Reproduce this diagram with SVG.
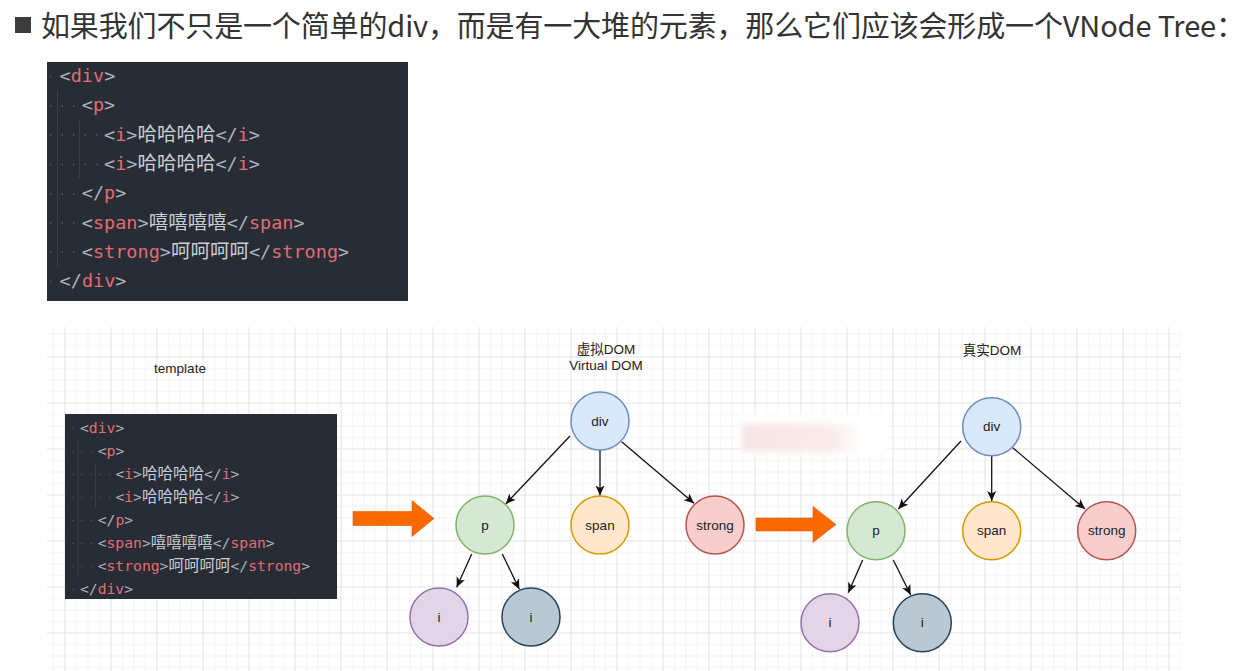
<svg xmlns="http://www.w3.org/2000/svg" width="1260" height="671" viewBox="0 0 1260 671">
<style>
.hdr{font-family:"Noto Sans CJK SC","Noto Sans",sans-serif;font-size:29px;fill:#333}
.code{font-family:"DejaVu Sans Mono","Liberation Mono",monospace;fill:#abb2bf}
.k1{font-size:18.5px}
.k2{font-size:14.7px}
.t{fill:#e06c75}
.z{font-family:"Noto Sans CJK SC",sans-serif;fill:#c8ccd4}
.z1{font-size:19.5px}
.z2{font-size:15.5px}
.dot{fill:#4b5263}
.guide{stroke:#3b4048;stroke-width:1}
.lbl{font-family:"Liberation Sans","Noto Sans CJK SC",Arial,sans-serif;font-size:13.5px;fill:#222;text-anchor:middle}
.nd{stroke-width:1.5}
.edge{stroke:#111;stroke-width:1.3;fill:none;marker-end:url(#ah)}
.big{fill:#fa6800;stroke:#e35c00;stroke-width:0.6}
</style>
<defs>
<pattern id="grid" patternUnits="userSpaceOnUse" x="64.5" y="356.5" width="46" height="46">
<rect x="11.5" y="0" width="1" height="46" fill="#f2f2f2"/>
<rect x="23" y="0" width="1" height="46" fill="#f2f2f2"/>
<rect x="34.5" y="0" width="1" height="46" fill="#f2f2f2"/>
<rect x="0" y="11.5" width="46" height="1" fill="#f2f2f2"/>
<rect x="0" y="23" width="46" height="1" fill="#f2f2f2"/>
<rect x="0" y="34.5" width="46" height="1" fill="#f2f2f2"/>
<rect x="0" y="0" width="1" height="46" fill="#e3e3e3"/>
<rect x="0" y="0" width="46" height="1" fill="#e3e3e3"/>
</pattern>
<marker id="ah" markerUnits="userSpaceOnUse" markerWidth="11" markerHeight="10" refX="10" refY="5" orient="auto">
<path d="M0,0.5 L10,5 L0,9.5 L2.5,5 z" fill="#111"/>
</marker>
<linearGradient id="smg" x1="0" y1="0" x2="1" y2="0">
<stop offset="0" stop-color="#f7e4e4"/>
<stop offset="0.75" stop-color="#fbeaea"/>
<stop offset="1" stop-color="#ffffff"/>
</linearGradient>
<filter id="bl" x="-20%" y="-50%" width="140%" height="200%"><feGaussianBlur stdDeviation="3"/></filter>
</defs>

<rect width="1260" height="671" fill="#ffffff"/>

<!-- header -->
<g id="header">
<rect x="15" y="17" width="16" height="16" fill="#3c3c3c"/>
<text class="hdr" x="41" y="37" textLength="1204" lengthAdjust="spacing">如果我们不只是一个简单的div，而是有一大堆的元素，那么它们应该会形成一个VNode Tree：</text>
</g>

<!-- code block 1 -->
<g id="code1">
<rect x="47" y="62" width="361" height="239" fill="#282c34"/>
<line class="guide" x1="57.5" y1="90" x2="57.5" y2="266"/>
<line class="guide" x1="79.5" y1="120" x2="79.5" y2="178"/>
<g class="dot">
<circle cx="50.5" cy="76.5" r="1"/>
<circle cx="50.5" cy="105.8" r="1"/><circle cx="62.1" cy="105.8" r="1"/><circle cx="73.7" cy="105.8" r="1"/>
<circle cx="50.5" cy="135.1" r="1"/><circle cx="62.1" cy="135.1" r="1"/><circle cx="73.7" cy="135.1" r="1"/><circle cx="85.3" cy="135.1" r="1"/><circle cx="96.9" cy="135.1" r="1"/>
<circle cx="50.5" cy="164.4" r="1"/><circle cx="62.1" cy="164.4" r="1"/><circle cx="73.7" cy="164.4" r="1"/><circle cx="85.3" cy="164.4" r="1"/><circle cx="96.9" cy="164.4" r="1"/>
<circle cx="50.5" cy="193.7" r="1"/><circle cx="62.1" cy="193.7" r="1"/><circle cx="73.7" cy="193.7" r="1"/>
<circle cx="50.5" cy="223" r="1"/><circle cx="62.1" cy="223" r="1"/><circle cx="73.7" cy="223" r="1"/>
<circle cx="50.5" cy="252.3" r="1"/><circle cx="62.1" cy="252.3" r="1"/><circle cx="73.7" cy="252.3" r="1"/>
<circle cx="50.5" cy="281.6" r="1"/>
</g>
<text class="code k1" x="59.6" y="82">&lt;<tspan class="t">div</tspan>&gt;</text>
<text class="code k1" x="81.8" y="111.3">&lt;<tspan class="t">p</tspan>&gt;</text>
<text class="code k1" x="104" y="140.6">&lt;<tspan class="t">i</tspan>&gt;<tspan class="z z1">哈哈哈哈</tspan>&lt;/<tspan class="t">i</tspan>&gt;</text>
<text class="code k1" x="104" y="169.9">&lt;<tspan class="t">i</tspan>&gt;<tspan class="z z1">哈哈哈哈</tspan>&lt;/<tspan class="t">i</tspan>&gt;</text>
<text class="code k1" x="81.8" y="199.2">&lt;/<tspan class="t">p</tspan>&gt;</text>
<text class="code k1" x="81.8" y="228.5">&lt;<tspan class="t">span</tspan>&gt;<tspan class="z z1">嘻嘻嘻嘻</tspan>&lt;/<tspan class="t">span</tspan>&gt;</text>
<text class="code k1" x="81.8" y="257.8">&lt;<tspan class="t">strong</tspan>&gt;<tspan class="z z1">呵呵呵呵</tspan>&lt;/<tspan class="t">strong</tspan>&gt;</text>
<text class="code k1" x="59.6" y="287.1">&lt;/<tspan class="t">div</tspan>&gt;</text>
</g>

<!-- grid canvas -->
<rect x="47" y="327" width="1134" height="344" fill="url(#grid)"/>

<!-- smudge -->
<g id="smudge" filter="url(#bl)">
<rect x="740" y="414" width="148" height="42" fill="#ffffff"/>
<rect x="742" y="424" width="120" height="28" fill="url(#smg)"/>
</g>

<!-- labels -->
<text class="lbl" x="180" y="373">template</text>
<text class="lbl" x="606" y="353.5">虚拟DOM</text>
<text class="lbl" x="606" y="370">Virtual DOM</text>
<text class="lbl" x="992" y="355">真实DOM</text>

<!-- code block 2 -->
<g id="template">
<rect x="65" y="414" width="272" height="185" fill="#282c34"/>
<line class="guide" x1="78" y1="440" x2="78" y2="577"/>
<line class="guide" x1="95.5" y1="463" x2="95.5" y2="507"/>
<g class="dot">
<circle cx="72.8" cy="428.5" r="0.8"/>
<circle cx="72.8" cy="451.5" r="0.8"/><circle cx="82" cy="451.5" r="0.8"/><circle cx="91.2" cy="451.5" r="0.8"/>
<circle cx="72.8" cy="474.5" r="0.8"/><circle cx="82" cy="474.5" r="0.8"/><circle cx="91.2" cy="474.5" r="0.8"/><circle cx="100.4" cy="474.5" r="0.8"/><circle cx="109.6" cy="474.5" r="0.8"/>
<circle cx="72.8" cy="497.5" r="0.8"/><circle cx="82" cy="497.5" r="0.8"/><circle cx="91.2" cy="497.5" r="0.8"/><circle cx="100.4" cy="497.5" r="0.8"/><circle cx="109.6" cy="497.5" r="0.8"/>
<circle cx="72.8" cy="520.5" r="0.8"/><circle cx="82" cy="520.5" r="0.8"/><circle cx="91.2" cy="520.5" r="0.8"/>
<circle cx="72.8" cy="543.5" r="0.8"/><circle cx="82" cy="543.5" r="0.8"/><circle cx="91.2" cy="543.5" r="0.8"/>
<circle cx="72.8" cy="566.5" r="0.8"/><circle cx="82" cy="566.5" r="0.8"/><circle cx="91.2" cy="566.5" r="0.8"/>
<circle cx="72.8" cy="589.5" r="0.8"/>
</g>
<text class="code k2" x="80" y="432.5">&lt;<tspan class="t">div</tspan>&gt;</text>
<text class="code k2" x="97.7" y="455.5">&lt;<tspan class="t">p</tspan>&gt;</text>
<text class="code k2" x="115.4" y="478.5">&lt;<tspan class="t">i</tspan>&gt;<tspan class="z z2">哈哈哈哈</tspan>&lt;/<tspan class="t">i</tspan>&gt;</text>
<text class="code k2" x="115.4" y="501.5">&lt;<tspan class="t">i</tspan>&gt;<tspan class="z z2">哈哈哈哈</tspan>&lt;/<tspan class="t">i</tspan>&gt;</text>
<text class="code k2" x="97.7" y="524.5">&lt;/<tspan class="t">p</tspan>&gt;</text>
<text class="code k2" x="97.7" y="547.5">&lt;<tspan class="t">span</tspan>&gt;<tspan class="z z2">嘻嘻嘻嘻</tspan>&lt;/<tspan class="t">span</tspan>&gt;</text>
<text class="code k2" x="97.7" y="570.5">&lt;<tspan class="t">strong</tspan>&gt;<tspan class="z z2">呵呵呵呵</tspan>&lt;/<tspan class="t">strong</tspan>&gt;</text>
<text class="code k2" x="80" y="593.5">&lt;/<tspan class="t">div</tspan>&gt;</text>
</g>

<!-- big orange arrows -->
<polygon id="arrow1" class="big" points="353,511.5 412,511.5 412,500.5 434,518.5 412,536.5 412,525.5 353,525.5"/>
<polygon id="arrow2" class="big" points="756,518 813,518 813,506.5 836,524.5 813,542.5 813,531 756,531"/>

<!-- connectors -->
<g id="connectors">
<line class="edge" x1="570" y1="436" x2="505.7" y2="504"/>
<line class="edge" x1="600" y1="449.7" x2="600" y2="495.5"/>
<line class="edge" x1="621.7" y1="441.7" x2="694" y2="503.3"/>
<line class="edge" x1="471.7" y1="554" x2="456.7" y2="587.3"/>
<line class="edge" x1="502.3" y1="554" x2="519.3" y2="589.3"/>
<line class="edge" x1="961" y1="441" x2="898.3" y2="509"/>
<line class="edge" x1="991.7" y1="455.7" x2="991.7" y2="501"/>
<line class="edge" x1="1012.7" y1="447.7" x2="1085" y2="509"/>
<line class="edge" x1="862.7" y1="560" x2="848.3" y2="592.7"/>
<line class="edge" x1="893.3" y1="560" x2="910.7" y2="595"/>
</g>

<!-- virtual DOM nodes -->
<g id="v-div"><circle class="nd" cx="600" cy="421" r="29" fill="#dae8fc" stroke="#6c8ebf"/><text class="lbl" x="600" y="425.5">div</text></g>
<g id="v-p"><circle class="nd" cx="485" cy="525" r="29" fill="#d5e8d4" stroke="#82b366"/><text class="lbl" x="485" y="529.5">p</text></g>
<g id="v-span"><circle class="nd" cx="600" cy="525" r="29" fill="#ffe6cc" stroke="#d79b00"/><text class="lbl" x="600" y="529.5">span</text></g>
<g id="v-strong"><circle class="nd" cx="715" cy="525" r="29" fill="#f8cecc" stroke="#b85450"/><text class="lbl" x="715" y="529.5">strong</text></g>
<g id="v-i1"><circle class="nd" cx="439" cy="617" r="29" fill="#e1d5e7" stroke="#9673a6"/><text class="lbl" x="439" y="621.5">i</text></g>
<g id="v-i2"><circle class="nd" cx="531" cy="617" r="29" fill="#bac8d3" stroke="#23445d"/><text class="lbl" x="531" y="621.5">i</text></g>

<!-- real DOM nodes -->
<g id="r-div"><circle class="nd" cx="991.7" cy="426.7" r="29" fill="#dae8fc" stroke="#6c8ebf"/><text class="lbl" x="991.7" y="431.2">div</text></g>
<g id="r-p"><circle class="nd" cx="876" cy="530.7" r="29" fill="#d5e8d4" stroke="#82b366"/><text class="lbl" x="876" y="535.2">p</text></g>
<g id="r-span"><circle class="nd" cx="991.7" cy="530.7" r="29" fill="#ffe6cc" stroke="#d79b00"/><text class="lbl" x="991.7" y="535.2">span</text></g>
<g id="r-strong"><circle class="nd" cx="1106.7" cy="530.7" r="29" fill="#f8cecc" stroke="#b85450"/><text class="lbl" x="1106.7" y="535.2">strong</text></g>
<g id="r-i1"><circle class="nd" cx="830" cy="622.7" r="29" fill="#e1d5e7" stroke="#9673a6"/><text class="lbl" x="830" y="627.2">i</text></g>
<g id="r-i2"><circle class="nd" cx="922.3" cy="622.7" r="29" fill="#bac8d3" stroke="#23445d"/><text class="lbl" x="922.3" y="627.2">i</text></g>
</svg>
